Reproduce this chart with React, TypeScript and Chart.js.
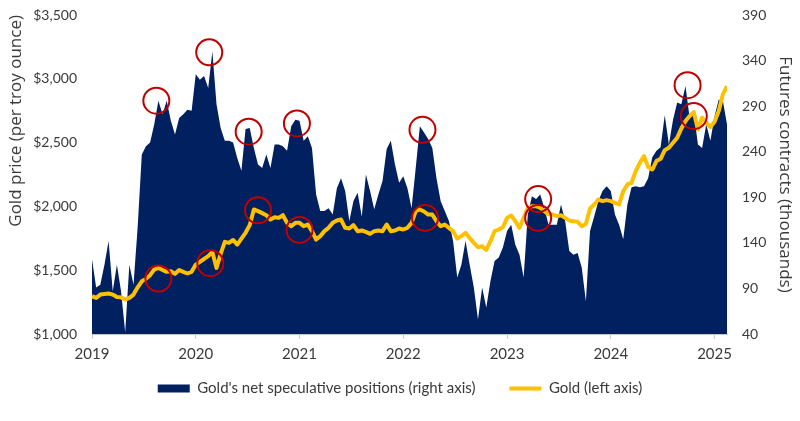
import React, { useEffect, useRef } from 'react';
import { Chart, registerables } from 'chart.js';

Chart.register(...registerables);

// Sample dates (decimal years, roughly every two weeks)
const dates = [
  2019.00, 2019.04, 2019.08, 2019.12, 2019.16, 2019.20, 2019.24, 2019.28, 2019.32, 2019.36, 2019.40, 2019.44, 2019.48, 2019.52, 2019.56, 2019.60, 2019.64, 2019.68, 2019.72, 2019.76, 2019.80, 2019.84, 2019.88, 2019.92, 2019.96,
  2020.00, 2020.04, 2020.08, 2020.12, 2020.16, 2020.20, 2020.24, 2020.28, 2020.32, 2020.36, 2020.40, 2020.44, 2020.48, 2020.52, 2020.56, 2020.60, 2020.64, 2020.68, 2020.72, 2020.76, 2020.80, 2020.84, 2020.88, 2020.92, 2020.96,
  2021.00, 2021.04, 2021.08, 2021.12, 2021.16, 2021.20, 2021.24, 2021.28, 2021.32, 2021.36, 2021.40, 2021.44, 2021.48, 2021.52, 2021.56, 2021.60, 2021.64, 2021.68, 2021.72, 2021.76, 2021.80, 2021.84, 2021.88, 2021.92, 2021.96,
  2022.00, 2022.04, 2022.08, 2022.12, 2022.16, 2022.20, 2022.24, 2022.28, 2022.32, 2022.36, 2022.40, 2022.44, 2022.48, 2022.52, 2022.56, 2022.60, 2022.64, 2022.68, 2022.72, 2022.76, 2022.80, 2022.84, 2022.88, 2022.92, 2022.96,
  2023.00, 2023.04, 2023.08, 2023.12, 2023.16, 2023.20, 2023.24, 2023.28, 2023.32, 2023.36, 2023.40, 2023.44, 2023.48, 2023.52, 2023.56, 2023.60, 2023.64, 2023.68, 2023.72, 2023.76, 2023.80, 2023.84, 2023.88, 2023.92, 2023.96,
  2024.00, 2024.04, 2024.08, 2024.12, 2024.16, 2024.20, 2024.24, 2024.28, 2024.32, 2024.36, 2024.40, 2024.44, 2024.48, 2024.52, 2024.56, 2024.60, 2024.64, 2024.68, 2024.72, 2024.76, 2024.80, 2024.84, 2024.88, 2024.92, 2024.96,
  2025.00, 2025.04, 2025.08, 2025.12,
];

// Gold's net speculative positions, futures contracts (thousands) – right axis
const netPositions = [
  122, 91, 94, 116, 142, 87, 116, 87, 42, 116, 94, 157, 237, 246, 250, 270, 296, 281, 296, 274, 259, 277, 281, 286, 285,
  325, 319, 323, 310, 350, 292, 266, 252, 252, 250, 233, 219, 265, 266, 244, 226, 222, 237, 222, 248, 248, 246, 241, 268, 275,
  274, 252, 257, 244, 193, 175, 175, 178, 171, 200, 211, 197, 164, 186, 195, 169, 215, 197, 177, 193, 208, 243, 252, 226, 206,
  213, 200, 178, 222, 268, 261, 254, 244, 211, 186, 175, 164, 142, 102, 116, 142, 116, 91, 56, 91, 69, 98, 120, 124, 135,
  153, 160, 138, 127, 102, 171, 191, 188, 193, 178, 160, 160, 160, 182, 164, 131, 127, 129, 113, 76, 153, 169, 186, 197, 202,
  197, 171, 160, 144, 182, 201, 202, 201, 202, 211, 234, 241, 245, 280, 248, 275, 294, 292, 312, 277, 283, 248, 244, 270, 252,
  279, 297, 296, 270,
];

// Gold price, USD per troy ounce – left axis
const goldPrice = [
  1296, 1283, 1309, 1314, 1317, 1309, 1290, 1287, 1270, 1283, 1309, 1366, 1413, 1432, 1461, 1505, 1518, 1502, 1487, 1492, 1471, 1502, 1487, 1474, 1487,
  1544, 1565, 1589, 1610, 1643, 1518, 1628, 1722, 1714, 1737, 1701, 1748, 1793, 1853, 1976, 1963, 1947, 1931, 1897, 1915, 1910, 1931, 1871, 1845, 1871,
  1871, 1845, 1858, 1806, 1740, 1767, 1806, 1832, 1871, 1889, 1897, 1832, 1827, 1853, 1806, 1811, 1800, 1785, 1806, 1811, 1806, 1858, 1806, 1811, 1827,
  1819, 1832, 1871, 1963, 1976, 1960, 1936, 1936, 1884, 1845, 1858, 1832, 1806, 1748, 1767, 1793, 1753, 1714, 1680, 1688, 1659, 1727, 1806, 1819, 1837,
  1910, 1929, 1884, 1832, 1910, 1989, 2002, 2002, 1989, 1963, 1936, 1936, 1923, 1931, 1910, 1889, 1884, 1879, 1845, 1863, 1984, 2015, 2054, 2041, 2049,
  2041, 2028, 2015, 2119, 2172, 2185, 2276, 2342, 2394, 2308, 2289, 2355, 2373, 2441, 2459, 2499, 2538, 2611, 2669, 2708, 2739, 2603, 2695, 2656, 2622,
  2664, 2747, 2878, 2943,
];

// Highlighted peaks (red circles)
const positionPeakDates = [2019.62, 2020.13, 2020.51, 2020.975, 2022.185, 2023.30, 2024.74];
const positionPeakValues = [296, 349, 262, 271, 264, 188, 313];
const goldPeakDates = [2019.64, 2020.14, 2020.60, 2021.00, 2022.21, 2023.30, 2024.80];
const goldPeakValues = [1435, 1555, 1970, 1816, 1910, 1910, 2708];

const xTickYears = [2019, 2020, 2021, 2022, 2023, 2024, 2025];
const seriesNames = ["Gold's net speculative positions (right axis)", 'Gold (left axis)'];
const leftAxisTitle = 'Gold price (per troy ounce)';
const rightAxisTitle = 'Futures contracts (thousands)';

const NAVY = '#002060';
const GOLD = '#FFC000';
const RED = '#C00000';
const TEXT = '#3a3a3a';
const AXIS = '#c6c6c6';
const FONT = "Lato, 'Open Sans', sans-serif";
const TITLE_FONT = "'Open Sans', Lato, sans-serif";

// Lifts the bottom legend closer to the axis while keeping wide item spacing
const legendLift = {
  id: 'legendLift',
  afterLayout(chart: any) {
    const lg = chart.legend;
    if (lg) {
      lg.top -= 22;
      lg.bottom -= 22;
    }
  },
};

const fitY = (width: number) => (scale: any) => {
  scale.width = width;
  scale.paddingTop = 0;
  scale.paddingBottom = 0;
};

export default function App() {
  const ref = useRef<HTMLCanvasElement>(null);

  useEffect(() => {
    document.body.style.margin = '0';
    const canvas = ref.current;
    if (!canvas) return;

    const posPoints = dates.map((d, i) => ({ x: d, y: netPositions[i] }));
    const goldPoints = dates.map((d, i) => ({ x: d, y: goldPrice[i] }));
    const posCircles = positionPeakDates.map((d, i) => ({ x: d, y: positionPeakValues[i] }));
    const goldCircles = goldPeakDates.map((d, i) => ({ x: d, y: goldPeakValues[i] }));

    const chart = new Chart(canvas, {
      type: 'line',
      data: {
        datasets: [
          {
            label: seriesNames[0],
            data: posPoints,
            yAxisID: 'yRight',
            fill: 'start',
            backgroundColor: NAVY,
            borderColor: NAVY,
            borderWidth: 0,
            pointRadius: 0,
            tension: 0,
            order: 3,
          },
          {
            label: seriesNames[1],
            data: goldPoints,
            yAxisID: 'yLeft',
            fill: false,
            borderColor: GOLD,
            backgroundColor: GOLD,
            borderWidth: 4,
            borderJoinStyle: 'round',
            pointRadius: 0,
            tension: 0,
            order: 2,
          },
          {
            label: 'positions peaks',
            data: posCircles,
            yAxisID: 'yRight',
            showLine: false,
            pointRadius: 13,
            pointBorderWidth: 2,
            pointBorderColor: RED,
            pointBackgroundColor: 'rgba(0,0,0,0)',
            order: 1,
            clip: false,
          },
          {
            label: 'gold peaks',
            data: goldCircles,
            yAxisID: 'yLeft',
            showLine: false,
            pointRadius: 13,
            pointBorderWidth: 2,
            pointBorderColor: RED,
            pointBackgroundColor: 'rgba(0,0,0,0)',
            order: 0,
            clip: false,
          },
        ],
      },
      options: {
        responsive: false,
        animation: false,
        layout: { padding: { top: 14, bottom: -7, left: 0, right: 0 } },
        plugins: {
          tooltip: { enabled: false },
          legend: {
            position: 'bottom',
            labels: {
              usePointStyle: true,
              pointStyleWidth: 32,
              boxHeight: 8,
              padding: 34,
              color: TEXT,
              font: { family: FONT, size: 15 },
              generateLabels: () => [
                { text: seriesNames[0], fillStyle: NAVY, strokeStyle: NAVY, lineWidth: 0, pointStyle: 'rect', datasetIndex: 0, hidden: false, fontColor: TEXT },
                { text: seriesNames[1], fillStyle: GOLD, strokeStyle: GOLD, lineWidth: 4, pointStyle: 'line', datasetIndex: 1, hidden: false, fontColor: TEXT },
              ],
            },
          },
        },
        scales: {
          x: {
            type: 'linear',
            min: dates[0],
            max: dates[dates.length - 1],
            afterBuildTicks: (scale: any) => {
              scale.ticks = xTickYears.map((v) => ({ value: v }));
            },
            ticks: {
              color: TEXT,
              font: { family: FONT, size: 15 },
              padding: 6,
              maxRotation: 0,
              autoSkip: false,
              callback: (v: any) => String(v),
            },
            grid: { display: true, drawOnChartArea: false, drawTicks: true, tickLength: 5, color: AXIS },
            border: { display: true, color: AXIS, width: 1 },
          },
          yLeft: {
            position: 'left',
            min: 1000,
            max: 3500,
            ticks: {
              stepSize: 500,
              color: TEXT,
              font: { family: FONT, size: 14 },
              padding: 15,
              callback: (v: any) => '$' + Number(v).toLocaleString('en-US'),
            },
            grid: { display: false, drawTicks: false },
            border: { display: false },
            title: {
              display: true,
              text: leftAxisTitle,
              color: TEXT,
              align: 'end',
              font: { family: TITLE_FONT, size: 17 },
              padding: { top: 6, bottom: 0 },
            },
            afterFit: fitY(92),
          },
          yRight: {
            position: 'right',
            min: 40,
            max: 390,
            ticks: {
              stepSize: 50,
              color: TEXT,
              font: { family: FONT, size: 14 },
              padding: 15,
            },
            grid: { display: false, drawTicks: false },
            border: { display: false },
            title: {
              display: true,
              text: rightAxisTitle,
              color: TEXT,
              align: 'center',
              font: { family: TITLE_FONT, size: 17 },
              padding: { top: 5, bottom: 0 },
            },
            afterFit: fitY(73),
          },
        },
      } as any,
      plugins: [legendLift],
    });

    return () => chart.destroy();
  }, []);

  return (
    <div style={{ width: 800, height: 421 }}>
      <canvas ref={ref} width={800} height={421} />
    </div>
  );
}
